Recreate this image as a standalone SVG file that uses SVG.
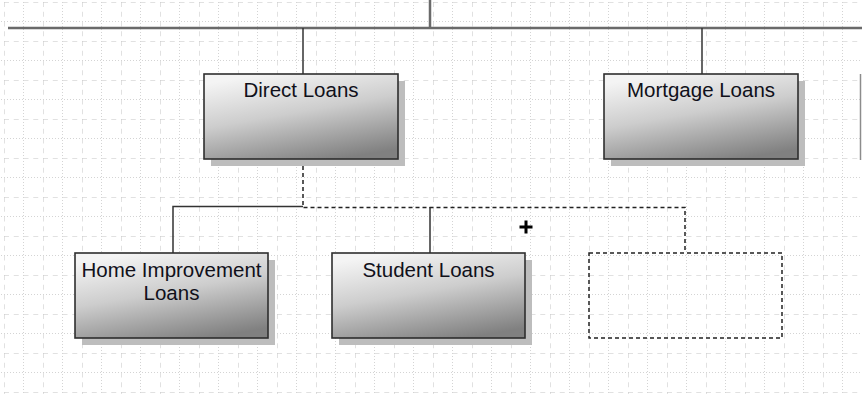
<svg xmlns="http://www.w3.org/2000/svg" width="862" height="394" viewBox="0 0 862 394">
  <defs>
    <!-- background grid: dashed major lines with dotted minor lines between -->
    <pattern id="grid" patternUnits="userSpaceOnUse" x="4" y="2" width="39" height="39">
      <line class="gdash" x1="0" y1="0" x2="39" y2="0"/>
      <line class="gdash" x1="0" y1="0" x2="0" y2="39"/>
      <line class="gdot" x1="0" y1="19.5" x2="39" y2="19.5"/>
      <line class="gdot" x1="19.5" y1="0" x2="19.5" y2="39"/>
    </pattern>
    <linearGradient id="boxFill" x1="0.3" y1="0" x2="0.7" y2="1">
      <stop offset="0" stop-color="#f4f4f4"/>
      <stop offset="0.45" stop-color="#cdcdcd"/>
      <stop offset="1" stop-color="#808080"/>
    </linearGradient>
  </defs>
  <style>
    .gdash { stroke: #c4c4c4; stroke-width: 1; stroke-dasharray: 5 4.75; fill: none; }
    .gdot { stroke: #d4d4d4; stroke-width: 1; stroke-dasharray: 1 2; fill: none; }
    .shadow { fill: #bdbdbd; }
    .box { fill: url(#boxFill); stroke: #2e2e2e; stroke-width: 1.6; }
    .label { font-family: "Liberation Sans", Arial, sans-serif; font-size: 20.5px; fill: #10101a; text-anchor: middle; }
    .wire { stroke: #333; stroke-width: 1.5; fill: none; }
    .trunk { stroke: #6a6a6a; stroke-width: 2.5; fill: none; }
    .ghost { stroke: #222; stroke-width: 1.5; fill: none; stroke-dasharray: 4 3; }
  </style>

  <rect width="862" height="394" fill="#ffffff"/>
  <rect width="862" height="394" fill="url(#grid)"/>

  <!-- connectors -->
  <g id="connectors">
    <line class="trunk" x1="8" y1="28" x2="862" y2="28"/>
    <line class="trunk" x1="430" y1="0" x2="430" y2="28"/>
    <line class="wire" x1="303" y1="28" x2="303" y2="74"/>
    <line class="wire" x1="702" y1="28" x2="702" y2="74"/>
    <polyline class="wire" points="173,253 173,206.5 303,206.5"/>
    <line class="wire" x1="430" y1="207" x2="430" y2="253"/>
    <polyline class="ghost" points="303,159 303,207.5 685,207.5 685,253"/>
    <line x1="860.5" y1="74" x2="860.5" y2="160" stroke="#8c8c8c" stroke-width="1.5"/>
  </g>

  <g id="direct-loans">
    <rect class="shadow" x="211" y="81" width="194" height="85"/>
    <rect class="box" x="204" y="74" width="194" height="85"/>
    <text class="label" x="301" y="97">Direct Loans</text>
  </g>

  <g id="mortgage-loans">
    <rect class="shadow" x="611" y="81" width="194" height="85"/>
    <rect class="box" x="604" y="74" width="194" height="85"/>
    <text class="label" x="701" y="97">Mortgage Loans</text>
  </g>

  <g id="home-improvement-loans">
    <rect class="shadow" x="82" y="260" width="193" height="85"/>
    <rect class="box" x="75" y="253" width="193" height="85"/>
    <text class="label" x="171.5" y="277">Home Improvement</text>
    <text class="label" x="171.5" y="300">Loans</text>
  </g>

  <g id="student-loans">
    <rect class="shadow" x="339" y="260" width="193" height="85"/>
    <rect class="box" x="332" y="253" width="193" height="85"/>
    <text class="label" x="428.5" y="277">Student Loans</text>
  </g>

  <!-- placeholder for a new child node -->
  <g id="new-node">
    <rect class="ghost" x="589" y="253" width="193" height="85"/>
  </g>

  <!-- insertion cursor -->
  <path d="M519.5 227 H532.5 M526 220.5 V233.5" stroke="#000" stroke-width="3" fill="none"/>
</svg>
